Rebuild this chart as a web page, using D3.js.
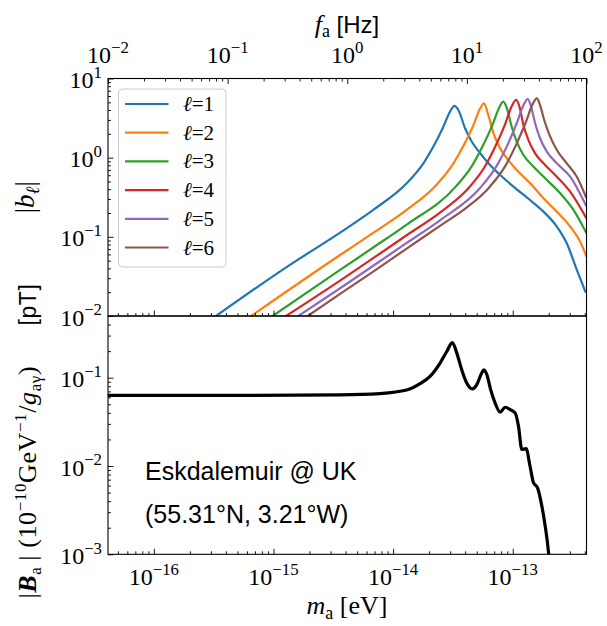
<!DOCTYPE html>
<html>
<head>
<meta charset="utf-8">
<script src="https://cdn.jsdelivr.net/npm/d3@7"></script>
<style>
  body { margin: 0; background: #fff; }
  svg { display: block; }
</style>
</head>
<body>
<div id="chart"></div>
<script>
// |b_l|, as [frequency in Hz, value]
const bL1 = [[0.08, 0.01], [0.3, 0.040], [0.871, 0.113], [1.65, 0.219], [3.14, 0.475], [4.33, 0.849],
  [5.25, 1.38], [6.36, 2.46], [7.23, 3.81], [7.85, 4.50], [8.49, 4.00], [9.66, 2.35], [11.0, 1.59],
  [12.9, 1.14], [15.6, 0.809], [19.0, 0.605], [24.5, 0.431], [33.7, 0.292], [43.7, 0.208],
  [56.5, 0.135], [68.4, 0.083], [83.0, 0.0382], [98.6, 0.0197]];
const bL2 = [[0.157, 0.01], [0.871, 0.059], [1.66, 0.113], [3.14, 0.219], [5.56, 0.452], [7.67, 0.834],
  [9.29, 1.38], [11.3, 2.54], [12.8, 4.08], [13.9, 4.85], [15.1, 3.46], [16.7, 2.03], [19.0, 1.31],
  [21.6, 0.98], [26.1, 0.70], [33.8, 0.474], [43.7, 0.307], [56.5, 0.208], [73.0, 0.135],
  [88.5, 0.087], [100, 0.056]];
const bL3 = [[0.238, 0.01], [0.871, 0.0382], [1.66, 0.0738], [3.14, 0.1426], [8.07, 0.431], [11.1, 0.80],
  [13.5, 1.38], [16.4, 2.61], [18.6, 4.28], [20.2, 5.09], [21.6, 4.20], [23.7, 2.46], [26.1, 1.59],
  [29.7, 1.08], [36.1, 0.77], [46.6, 0.523], [60.3, 0.355], [77.8, 0.219], [100, 0.111]];
const bL4 = [[0.308, 0.01], [0.871, 0.028], [1.66, 0.0542], [3.14, 0.1047], [6.0, 0.204], [10.3, 0.410],
  [14.2, 0.778], [17.2, 1.36], [20.9, 2.66], [23.7, 4.46], [25.8, 5.36], [27.5, 4.41], [29.7, 2.59],
  [32.7, 1.67], [37.2, 1.135], [45.1, 0.809], [56.5, 0.575], [73.0, 0.372], [100, 0.171]];
const bL5 = [[0.390, 0.01], [0.871, 0.0224], [1.66, 0.0434], [3.14, 0.0838], [6.0, 0.163], [12.9, 0.414],
  [17.8, 0.793], [21.6, 1.39], [26.1, 2.72], [29.7, 4.58], [32.3, 5.51], [34.4, 4.41], [37.2, 2.72],
  [40.9, 1.76], [46.6, 1.19], [56.5, 0.849], [73.0, 0.575], [100, 0.241]];
const bL6 = [[0.468, 0.01], [0.871, 0.019], [1.66, 0.0367], [3.14, 0.0711], [6.0, 0.1385], [10.0, 0.235],
  [15.3, 0.418], [21.1, 0.80], [25.6, 1.42], [31.1, 2.80], [35.3, 4.68], [38.4, 5.62], [40.9, 4.62],
  [44.3, 2.99], [49.0, 1.94], [56.5, 1.25], [68.4, 0.849], [83.0, 0.575], [100, 0.307]];

// |B_a| at Eskdalemuir (pT), bottom panel
const bField = [[0.01, 0.0631], [0.154, 0.0632], [0.871, 0.0640], [1.88, 0.0662], [3.14, 0.0725],
  [4.06, 0.0855], [4.92, 0.1035], [5.97, 0.1465], [6.79, 0.198], [7.56, 0.250], [8.24, 0.190],
  [9.06, 0.123], [9.97, 0.0871], [11.1, 0.0746], [12.1, 0.0834], [13.1, 0.108], [13.9, 0.123],
  [14.7, 0.108], [15.8, 0.0733], [17.2, 0.0519], [19.0, 0.0407], [20.9, 0.0463], [23.0, 0.0436],
  [25.3, 0.0400], [27.0, 0.0283], [28.8, 0.0154], [31.3, 0.0157], [33.7, 0.0100], [36.0, 0.0065],
  [38.9, 0.0057], [42.3, 0.00354], [45.1, 0.00211], [48.1, 0.00106], [48.6, 0.0009]];

const seriesNames = ["1", "2", "3", "4", "5", "6"];
const seriesData = [bL1, bL2, bL3, bL4, bL5, bL6];
const colors = ["#1f77b4", "#ff7f0e", "#2ca02c", "#d62728", "#9467bd", "#8c564b"];

// tick exponents
const freqTickExps = [-2, -1, 0, 1, 2];
const massTickExps = [-16, -15, -14, -13];
const bTickExps = [-2, -1, 0, 1];
const bFieldTickExps = [-3, -2, -1];

const EV_PER_HZ = 4.135667e-15;

const W = 607, H = 626;
const plotL = 108, plotR = 586.5, plotT = 78.5, plotM = 316, plotB = 554.3;
const serif = "'Liberation Serif', 'DejaVu Serif', serif";
const sans = "'Liberation Sans', 'DejaVu Sans', sans-serif";
const tickFont = 24;

const svg = d3.select("#chart").append("svg")
  .attr("width", W).attr("height", H)
  .attr("viewBox", `0 0 ${W} ${H}`);

const x = d3.scaleLog().domain([0.01, 100]).range([plotL, plotR]);
const xMass = d3.scaleLog().domain([0.01 * EV_PER_HZ, 100 * EV_PER_HZ]).range([plotL, plotR]);
const yTop = d3.scaleLog().domain([0.01, 10]).range([plotM, plotT]);
const yBot = d3.scaleLog().domain([1e-3, 0.5]).range([plotB, plotM]);

function minorTicks(domain) {
  const lo = Math.floor(Math.log10(domain[0])), hi = Math.ceil(Math.log10(domain[1]));
  const out = [];
  for (let e = lo; e < hi; e++) {
    for (let k = 2; k <= 9; k++) {
      const v = k * Math.pow(10, e);
      if (v > domain[0] * 1.0001 && v < domain[1] * 0.9999) out.push(v);
    }
  }
  return out;
}

function drawTicks(g, axisFn, scale, exps) {
  const majors = exps.map(e => Math.pow(10, e));
  g.append("g").call(axisFn(scale).tickValues(majors).tickSize(-5.5).tickSizeOuter(0).tickFormat(""));
  g.append("g").call(axisFn(scale).tickValues(minorTicks(scale.domain())).tickSize(-3).tickSizeOuter(0).tickFormat(""));
  g.selectAll(".domain").remove();
  g.selectAll(".tick line").attr("stroke", "#000").attr("stroke-width", 0.9);
}

function pow10(text, exp, size) {
  text.append("tspan").text("10");
  text.append("tspan")
    .attr("dy", -0.42 * size)
    .attr("font-size", size * 0.7)
    .text(exp < 0 ? "\u2212" + (-exp) : String(exp));
}

// clip paths
const defs = svg.append("defs");
defs.append("clipPath").attr("id", "clipTop").append("rect")
  .attr("x", plotL).attr("y", plotT).attr("width", plotR - plotL).attr("height", plotM - plotT);
defs.append("clipPath").attr("id", "clipBot").append("rect")
  .attr("x", plotL).attr("y", plotM).attr("width", plotR - plotL).attr("height", plotB - plotM);

// curves
const lineTop = d3.line().x(d => x(d[0])).y(d => yTop(d[1])).curve(d3.curveMonotoneX);
const lineBot = d3.line().x(d => x(d[0])).y(d => yBot(d[1])).curve(d3.curveMonotoneX);

svg.append("g").attr("clip-path", "url(#clipTop)")
  .selectAll("path").data(seriesData).join("path")
  .attr("d", lineTop)
  .attr("fill", "none")
  .attr("stroke", (d, i) => colors[i])
  .attr("stroke-width", 2.2);

svg.append("g").attr("clip-path", "url(#clipBot)")
  .append("path").datum(bField)
  .attr("d", lineBot)
  .attr("fill", "none")
  .attr("stroke", "#000")
  .attr("stroke-width", 3.2)
  .attr("stroke-linejoin", "round");

// ticks
drawTicks(svg.append("g").attr("transform", `translate(0,${plotT})`), d3.axisTop, x, freqTickExps);
drawTicks(svg.append("g").attr("transform", `translate(0,${plotM})`), d3.axisBottom, xMass, massTickExps);
drawTicks(svg.append("g").attr("transform", `translate(0,${plotB})`), d3.axisBottom, xMass, massTickExps);
drawTicks(svg.append("g").attr("transform", `translate(${plotL},0)`), d3.axisLeft, yTop, bTickExps);
drawTicks(svg.append("g").attr("transform", `translate(${plotL},0)`), d3.axisLeft, yBot, bFieldTickExps);

// frames
[[plotT, plotM], [plotM, plotB]].forEach(([y0, y1]) => {
  svg.append("rect")
    .attr("x", plotL).attr("y", y0)
    .attr("width", plotR - plotL).attr("height", y1 - y0)
    .attr("fill", "none").attr("stroke", "#000").attr("stroke-width", 1.1);
});

// tick labels
const labels = svg.append("g").attr("font-family", serif).attr("font-size", tickFont).attr("fill", "#000");
freqTickExps.forEach(e => {
  pow10(labels.append("text").attr("x", x(Math.pow(10, e))).attr("y", 63).attr("text-anchor", "middle"), e, tickFont);
});
massTickExps.forEach(e => {
  pow10(labels.append("text").attr("x", xMass(Math.pow(10, e))).attr("y", 585).attr("text-anchor", "middle"), e, tickFont);
});
bTickExps.forEach(e => {
  pow10(labels.append("text").attr("x", plotL - 6).attr("y", yTop(Math.pow(10, e)) + 9.5).attr("text-anchor", "end"), e, tickFont);
});
bFieldTickExps.forEach(e => {
  pow10(labels.append("text").attr("x", plotL - 6).attr("y", yBot(Math.pow(10, e)) + 9.5).attr("text-anchor", "end"), e, tickFont);
});

// axis titles
const fTitle = svg.append("text").attr("x", 347).attr("y", 33).attr("text-anchor", "middle")
  .attr("font-family", serif).attr("font-size", 26);
fTitle.append("tspan").attr("font-style", "italic").text("f");
fTitle.append("tspan").attr("font-size", 18).attr("dy", 4).text("a");
fTitle.append("tspan").attr("dy", -4).attr("font-family", sans).attr("font-size", 24).text(" [Hz]");

const mTitle = svg.append("text").attr("x", 347).attr("y", 614).attr("text-anchor", "middle")
  .attr("font-family", serif).attr("font-size", 26);
mTitle.append("tspan").attr("font-style", "italic").text("m");
mTitle.append("tspan").attr("font-size", 18).attr("dy", 5).text("a");
mTitle.append("tspan").attr("dy", -5).text(" [eV]");

const bTitle = svg.append("text")
  .attr("transform", `translate(34,${(plotT + plotM) / 2}) rotate(-90)`)
  .attr("text-anchor", "middle").attr("font-family", serif).attr("font-size", 27);
bTitle.append("tspan").text("|");
bTitle.append("tspan").attr("font-style", "italic").text("b");
bTitle.append("tspan").attr("font-style", "italic").attr("font-size", 19).attr("dy", 5).text("\u2113");
bTitle.append("tspan").attr("dy", -5).text("|");

const BTitle = svg.append("text")
  .attr("transform", `translate(36,${441}) rotate(-90)`)
  .attr("text-anchor", "middle").attr("font-family", serif).attr("font-size", 26)
  .attr("letter-spacing", 0.6);
BTitle.append("tspan").text("|");
BTitle.append("tspan").attr("font-style", "italic").attr("font-weight", "bold").text("B");
BTitle.append("tspan").attr("font-size", 17).attr("dy", 5).text("a");
BTitle.append("tspan").attr("dy", -5).text("\u2009| (10");
BTitle.append("tspan").attr("font-size", 17).attr("dy", -10).text("\u221210");
BTitle.append("tspan").attr("dy", 10).text("GeV");
BTitle.append("tspan").attr("font-size", 17).attr("dy", -10).text("\u22121");
BTitle.append("tspan").attr("dy", 10).text("/");
BTitle.append("tspan").attr("font-style", "italic").text("g");
BTitle.append("tspan").attr("font-size", 17).attr("dy", 5).text("a\u03b3");
BTitle.append("tspan").attr("dy", -5).text(")\u2003\u2002");
BTitle.append("tspan").attr("font-family", sans).attr("font-size", 23).text("[pT]");

// legend
const legend = svg.append("g");
legend.append("rect")
  .attr("x", 118.5).attr("y", 89).attr("width", 107.5).attr("height", 178)
  .attr("rx", 4).attr("fill", "#fff").attr("fill-opacity", 0.8)
  .attr("stroke", "#ccc").attr("stroke-width", 1);
seriesNames.forEach((name, i) => {
  const yy = 104 + i * 28.7;
  legend.append("line").attr("x1", 125).attr("x2", 168.5).attr("y1", yy).attr("y2", yy)
    .attr("stroke", colors[i]).attr("stroke-width", 2.2);
  const t = legend.append("text").attr("x", 183).attr("y", yy + 7)
    .attr("font-family", serif).attr("font-size", 21);
  t.append("tspan").attr("font-style", "italic").text("\u2113");
  t.append("tspan").text("=" + name);
});

// site annotation
const note = svg.append("g").attr("font-family", sans).attr("font-size", 25).attr("fill", "#000");
note.append("text").attr("x", 145).attr("y", 480).text("Eskdalemuir @ UK");
note.append("text").attr("x", 145).attr("y", 523).text("(55.31\u00b0N, 3.21\u00b0W)");
</script>
</body>
</html>
